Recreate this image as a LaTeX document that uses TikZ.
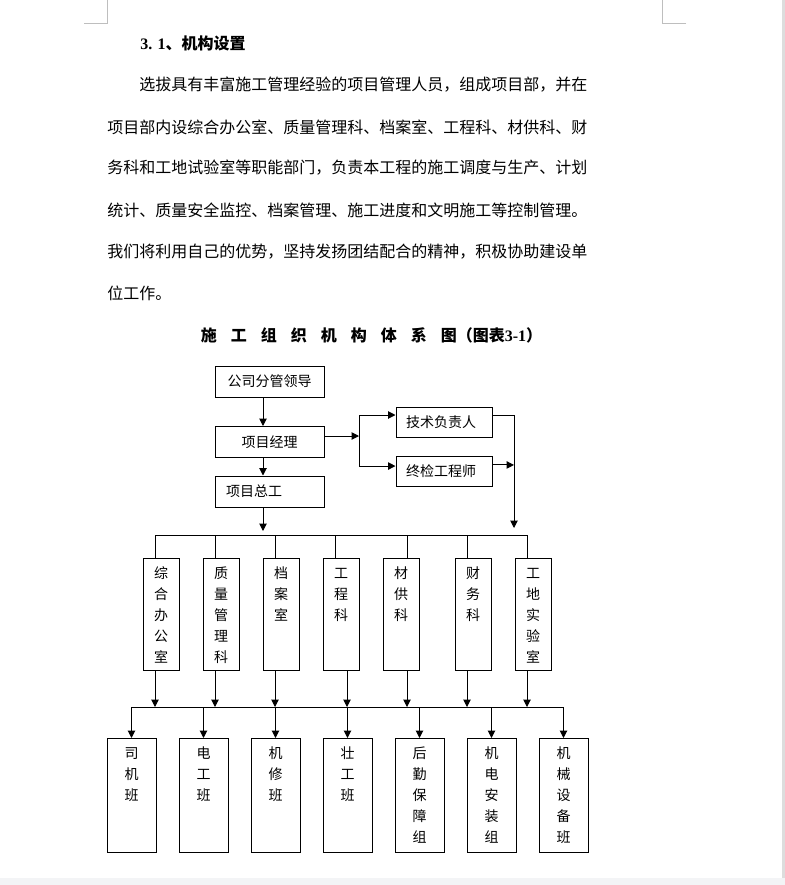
\documentclass[tikz,border=0pt]{standalone}
\usepackage{fontspec}
\setmainfont{Liberation Serif}
\newfontfamily\cjk{Noto Sans CJK SC}
\usepackage{tikz}
\usetikzlibrary{arrows.meta, positioning, calc}
\definecolor{markgray}{RGB}{190,190,190}
\definecolor{edgegray}{RGB}{221,221,221}
\definecolor{footgray}{RGB}{243,244,246}
\newcommand\titlegap{\hspace{10.5pt}}
\tikzset{
  heading/.style={
    anchor=west, inner sep=0pt, font=\bfseries\fontsize{12}{14}\selectfont
  },
  bodyline/.style={
    anchor=west, inner sep=0pt, font=\cjk\fontsize{12}{14}\selectfont
  },
  charttitle/.style={
    inner sep=0pt, font=\cjk\bfseries\fontsize{12}{14}\selectfont
  },
  box/.style={
    rectangle, draw=black, line width=0.75pt, fill=white, inner sep=0pt,
    font=\cjk\fontsize{10.5}{15.75}\selectfont
  },
  headbox/.style={
    box, minimum width=81.75pt, minimum height=23.25pt
  },
  sidebox/.style={
    box, minimum width=72pt, minimum height=22.5pt,
    inner xsep=7.5pt, text width=57pt, align=left
  },
  deptbox/.style={
    box, anchor=north, minimum width=27pt, text width=27pt, align=center,
    text height=15.2pt, text depth=68.8pt
  },
  teambox/.style={
    box, anchor=north, minimum width=36.75pt, text width=36.75pt, align=center,
    text height=15.2pt, text depth=70.3pt
  },
  wire/.style={line width=0.75pt, color=black},
  arrow/.style={-{Triangle[length=5.5pt, width=5.5pt]}, line width=0.75pt, color=black},
  cropmark/.style={line width=0.75pt, color=markgray}
}

\begin{document}
\begin{tikzpicture}[x=0.75pt, y=-0.75pt]
  % ── Page ─────────────────────────────────────────────────────────
  \useasboundingbox (0,0) rectangle (785,885);
  \fill[white] (0,0) rectangle (785,885);
  \fill[footgray] (0,878) rectangle (785,885);
  \fill[edgegray] (782,0) rectangle (785,878);
  \draw[cropmark] (84,23) -- (107.5,23) -- (107.5,0);
  \draw[cropmark] (686,23) -- (662.5,23) -- (662.5,0);

  % ── Heading and paragraph ────────────────────────────────────────
  \node[heading] (sec) at (140,43) {3. 1{\cjk 、机构设置}};
  \node[bodyline] (line1) at (139,85)
    {选拔具有丰富施工管理经验的项目管理人员，组成项目部，并在};
  \node[bodyline] (line2) at (107,127)
    {项目部内设综合办公室、质量管理科、档案室、工程科、材供科、财};
  \node[bodyline] (line3) at (107,168)
    {务科和工地试验室等职能部门，负责本工程的施工调度与生产、计划};
  \node[bodyline] (line4) at (107,210)
    {统计、质量安全监控、档案管理、施工进度和文明施工等控制管理。};
  \node[bodyline] (line5) at (107,252)
    {我们将利用自己的优势，坚持发扬团结配合的精神，积极协助建设单};
  \node[bodyline] (line6) at (107,293) {位工作。};

  \node[charttitle] (title) at (371.5,335)
    {施\titlegap 工\titlegap 组\titlegap 织\titlegap 机\titlegap 构\titlegap
     体\titlegap 系\titlegap 图（图表{\rmfamily 3-1}）};

  % ── Layer 1: Management ──────────────────────────────────────────
  \node[headbox] (lead) at (269.5,381.5) {公司分管领导};
  \node[headbox] (pm) at (269.5,442) {项目经理};
  \node[headbox, inner xsep=8.25pt, text width=65.25pt, align=left] (chief)
    at (269.5,491.5) {项目总工};
  \node[sidebox] (tech) at (444,422) {技术负责人};
  \node[sidebox] (final) at (444,471.5) {终检工程师};

  % ── Layer 2: Departments ─────────────────────────────────────────
  \node[deptbox] (office)  at (161,558) {综\\合\\办\\公\\室};
  \node[deptbox] (quality) at (221,558) {质\\量\\管\\理\\科};
  \node[deptbox] (archive) at (281,558) {档\\案\\室};
  \node[deptbox] (eng)     at (341,558) {工\\程\\科};
  \node[deptbox] (supply)  at (401,558) {材\\供\\科};
  \node[deptbox] (finance) at (473,558) {财\\务\\科};
  \node[deptbox] (lab)     at (533,558) {工\\地\\实\\验\\室};

  % ── Layer 3: Teams ───────────────────────────────────────────────
  \node[teambox] (driver)    at (131.5,738) {司\\机\\班};
  \node[teambox] (electric)  at (203.5,738) {电\\工\\班};
  \node[teambox] (repair)    at (275.5,738) {机\\修\\班};
  \node[teambox] (labor)     at (347.5,738) {壮\\工\\班};
  \node[teambox] (logistics) at (419.5,738) {后\\勤\\保\\障\\组};
  \node[teambox] (install)   at (491.5,738) {机\\电\\安\\装\\组};
  \node[teambox] (equip)     at (563.5,738) {机\\械\\设\\备\\班};

  % ── Connections ──────────────────────────────────────────────────
  \coordinate (spine) at (263,531);
  \coordinate (busA)  at (0,535);
  \coordinate (busB)  at (0,707);
  \coordinate (fork)  at (359,436);
  \coordinate (rail)  at (514,528);

  \draw[arrow] (lead.south -| spine) -- (pm.north -| spine);
  \draw[arrow] (pm.south -| spine)   -- (chief.north -| spine);
  \draw[arrow] (chief.south -| spine) -- (spine);

  \coordinate (techin)   at ([yshift=5.25pt]tech.west);
  \coordinate (finalin)  at ([yshift=4.1pt]final.west);
  \coordinate (techout)  at ([yshift=5.25pt]tech.east);
  \coordinate (finalout) at ([yshift=4.9pt]final.east);
  \draw[arrow] (pm.east |- fork) -- (fork);
  \draw[wire]  (fork |- techin) -- (fork |- finalin);
  \draw[arrow] (fork |- techin)  -- (techin);
  \draw[arrow] (fork |- finalin) -- (finalin);
  \draw[arrow] (techout) -| (rail);
  \draw[arrow] (finalout) -- (finalout -| rail);

  \draw[wire] ([xshift=-4.5pt]office.north |- busA) -- ([xshift=-4.5pt]lab.north |- busA);
  \draw[wire] ([xshift=-4.5pt]office.north)  -- ([xshift=-4.5pt]office.north |- busA);
  \draw[wire] ([xshift=-4.5pt]quality.north) -- ([xshift=-4.5pt]quality.north |- busA);
  \draw[wire] ([xshift=-4.5pt]archive.north) -- ([xshift=-4.5pt]archive.north |- busA);
  \draw[wire] ([xshift=-4.5pt]eng.north)     -- ([xshift=-4.5pt]eng.north |- busA);
  \draw[wire] ([xshift=4.5pt]supply.north)   -- ([xshift=4.5pt]supply.north |- busA);
  \draw[wire] ([xshift=-4.5pt]finance.north) -- ([xshift=-4.5pt]finance.north |- busA);
  \draw[wire] ([xshift=-4.5pt]lab.north)     -- ([xshift=-4.5pt]lab.north |- busA);

  \draw[arrow] ([xshift=-4.5pt]office.south)  -- ([xshift=-4.5pt]office.south |- busB);
  \draw[arrow] ([xshift=-4.5pt]quality.south) -- ([xshift=-4.5pt]quality.south |- busB);
  \draw[arrow] ([xshift=-4.5pt]archive.south) -- ([xshift=-4.5pt]archive.south |- busB);
  \draw[arrow] ([xshift=4.5pt]eng.south)      -- ([xshift=4.5pt]eng.south |- busB);
  \draw[arrow] ([xshift=4.5pt]supply.south)   -- ([xshift=4.5pt]supply.south |- busB);
  \draw[arrow] ([xshift=-4.5pt]finance.south) -- ([xshift=-4.5pt]finance.south |- busB);
  \draw[arrow] ([xshift=-4.5pt]lab.south)     -- ([xshift=-4.5pt]lab.south |- busB);

  \draw[wire] (driver.north |- busB) -- (equip.north |- busB);
  \draw[arrow] (driver.north |- busB)    -- (driver.north);
  \draw[arrow] (electric.north |- busB)  -- (electric.north);
  \draw[arrow] (repair.north |- busB)    -- (repair.north);
  \draw[arrow] (labor.north |- busB)     -- (labor.north);
  \draw[arrow] (logistics.north |- busB) -- (logistics.north);
  \draw[arrow] (install.north |- busB)   -- (install.north);
  \draw[arrow] (equip.north |- busB)     -- (equip.north);
\end{tikzpicture}
\end{document}
